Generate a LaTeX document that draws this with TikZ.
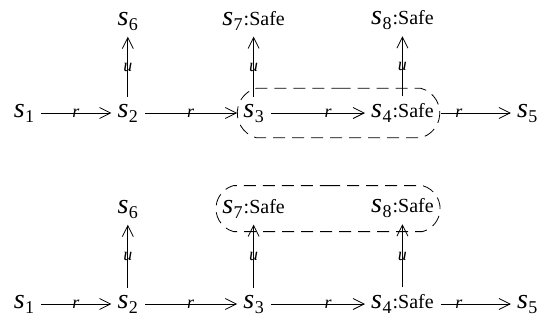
\documentclass[tikz,border=0pt]{standalone}
\usepackage{fontspec}
\setmainfont{Liberation Serif}
\newfontfamily\tms{Liberation Serif}
\usetikzlibrary{arrows.meta,positioning,fit,shapes.misc}

\newcommand{\st}[1]{\textit{s}\kern0.5pt\raisebox{-5pt}{\fontsize{18}{18}\selectfont #1}}
\newcommand{\safe}{{\fontsize{20}{24}\selectfont\kern1pt:Safe}}

\begin{document}
\begin{tikzpicture}[x=1pt,y=1pt,
  font=\tms\fontsize{28}{32}\selectfont, node distance=73pt,
  st/.style={inner sep=0pt},
  a/.style={-{Straight Barb[length=11pt,width=11pt]},line width=0.8pt,shorten <=7pt,shorten >=6pt},
  lbl/.style={font=\tms\fontsize{18}{20}\selectfont\itshape,inner sep=0pt},
  grp/.style={draw,line width=0.8pt,dash pattern=on 12pt off 7pt,rounded rectangle,
    rounded rectangle arc length=150,inner xsep=4pt,inner ysep=15pt}]
\useasboundingbox (0,0) rectangle (538,-322);
% before
\node[st] at (24,-113) (a1) {\st{1}};
\node[st,right=83pt of a1] (a2) {\st{2}};
\node[st,right=105pt of a2] (a3) {\st{3}};
\node[st,right=107pt of a3] (a4) {\st{4}\safe};
\node[st,right=83pt of a4] (a5) {\st{5}};
\node[st,above=of a2] (a6) {\st{6}};
\node[st,above=of a3] (a7) {\st{7}\safe};
\node[st,above=of a4] (a8) {\st{8}\safe};
\draw[a](a1)--node[lbl]{r}(a2);\draw[a](a2)--node[lbl]{r}(a3);
\draw[a](a3)--node[lbl,pos=0.6]{r}(a4);\draw[a](a4)--node[lbl,pos=0.3]{r}(a5);
\draw[a](a2)--node[lbl]{u}(a6);\draw[a](a3)--node[lbl]{u}(a7);\draw[a](a4)--node[lbl]{u}(a8);
\node[grp,fit=(a3)(a4)] (g1) {};
% after
\node[st] at (24,-304) (b1) {\st{1}};
\node[st,right=83pt of b1] (b2) {\st{2}};
\node[st,right=105pt of b2] (b3) {\st{3}};
\node[st,right=107pt of b3] (b4) {\st{4}\safe};
\node[st,right=83pt of b4] (b5) {\st{5}};
\node[st,above=76pt of b2] (b6) {\st{6}};
\node[st,above=76pt of b3] (b7) {\st{7}\safe};
\node[st,above=76pt of b4] (b8) {\st{8}\safe};
\draw[a](b1)--node[lbl]{r}(b2);\draw[a](b2)--node[lbl]{r}(b3);
\draw[a](b3)--node[lbl,pos=0.6]{r}(b4);\draw[a](b4)--node[lbl,pos=0.3]{r}(b5);
\draw[a](b2)--node[lbl]{u}(b6);\draw[a](b3)--node[lbl]{u}(b7);\draw[a](b4)--node[lbl]{u}(b8);
\node[grp,inner ysep=13pt,fit=(b7)(b8)] (g2) {};
\end{tikzpicture}
\end{document}
